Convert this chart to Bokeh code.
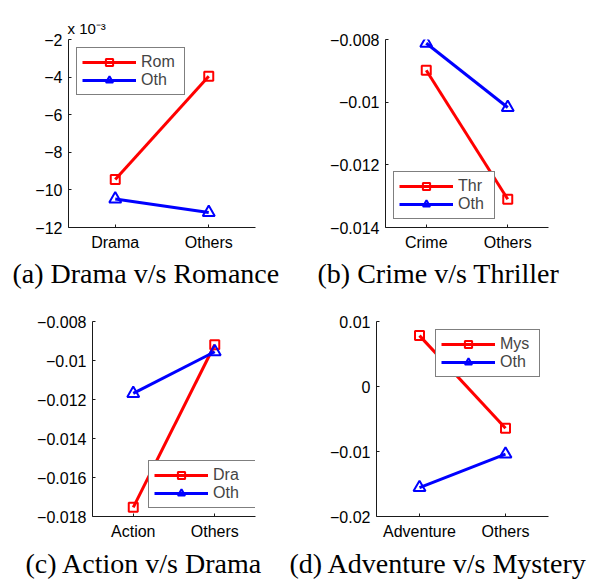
from bokeh.plotting import figure
from bokeh.models import FixedTicker, CustomJSTickFormatter, Legend, Title
from bokeh.layouts import column, row
from bokeh.embed import file_html
from bokeh.resources import INLINE

# ---- data ----
x_pos = [1, 2]

cats_a = ["Drama", "Others"]
rom_a = [-0.00945, -0.00395]
oth_a = [-0.01048, -0.01120]

cats_b = ["Crime", "Others"]
thr_b = [-0.00898, -0.01310]
oth_b = [-0.00812, -0.01017]

cats_c = ["Action", "Others"]
dra_c = [-0.01753, -0.00919]
oth_c = [-0.01169, -0.00955]

cats_d = ["Adventure", "Others"]
mys_d = [0.00783, -0.00641]
oth_d = [-0.01555, -0.01040]

ticks_a = [-0.012, -0.010, -0.008, -0.006, -0.004, -0.002]
ticks_b = [-0.014, -0.012, -0.010, -0.008]
ticks_c = [-0.018, -0.016, -0.014, -0.012, -0.010, -0.008]
ticks_d = [-0.02, -0.01, 0.0, 0.01]

RED = "#FF0000"
BLUE = "#0000FF"
SANS = "Liberation Sans"
SERIF = "Liberation Serif"

fmt_plain = CustomJSTickFormatter(code="""
    const s = parseFloat(tick.toFixed(6)).toString();
    return s.replace('-', '\u2212');
""")
fmt_milli = CustomJSTickFormatter(code="""
    const s = Math.round(tick * 1000).toString();
    return s.replace('-', '\u2212');
""")


def make_panel(cats, s1, s2, name1, ticks, yr, fmt, w, h, bl, br, bt, bb,
               leg_loc, leg_lw, caption, cap_off, cap_standoff):
    p = figure(width=w, height=h, output_backend="svg", toolbar_location=None,
               x_range=(0.5, 2.5), y_range=yr,
               min_border_left=bl, min_border_right=br,
               min_border_top=bt, min_border_bottom=bb)
    p.outline_line_color = None
    p.xgrid.visible = False
    p.ygrid.visible = False
    p.background_fill_color = "white"
    p.border_fill_color = "white"

    for ax in (p.xaxis[0], p.yaxis[0]):
        ax.axis_line_color = "#1a1a1a"
        ax.axis_line_width = 1
        ax.major_tick_in = 3
        ax.major_tick_out = 0
        ax.major_tick_line_color = "#1a1a1a"
        ax.minor_tick_line_color = None
        ax.major_label_text_font = SANS
        ax.major_label_text_font_size = "16px"
        ax.major_label_text_color = "black"
        ax.major_label_standoff = 6

    p.xaxis.ticker = FixedTicker(ticks=x_pos)
    p.xaxis.major_label_overrides = {x_pos[0]: cats[0], x_pos[1]: cats[1]}
    p.yaxis.ticker = FixedTicker(ticks=ticks)
    p.yaxis.formatter = fmt

    l1 = p.line(x_pos, s1, line_color=RED, line_width=3)
    m1 = p.scatter(x_pos, s1, marker="square", size=9, line_color=RED,
                   line_width=2, fill_color=None)
    l2 = p.line(x_pos, s2, line_color=BLUE, line_width=3)
    m2 = p.scatter(x_pos, s2, marker="triangle", size=12, line_color=BLUE,
                   line_width=2, fill_color=None)

    legend = Legend(items=[(name1, [l1, m1]), ("Oth", [l2, m2])],
                    location=leg_loc)
    legend.label_text_font = SANS
    legend.label_text_font_size = "16px"
    legend.glyph_width = 54
    legend.glyph_height = 18
    legend.label_height = 18
    legend.label_width = leg_lw
    legend.label_standoff = 5
    legend.padding = 5
    legend.spacing = 0
    legend.margin = 8
    legend.border_line_color = "black"
    legend.border_line_width = 1
    legend.background_fill_color = "white"
    legend.background_fill_alpha = 1.0
    p.add_layout(legend, "center")

    cap = Title(text=caption, align="left", offset=cap_off, standoff=cap_standoff,
                text_font=SERIF, text_font_size="28px", text_font_style="normal",
                text_color="black")
    p.add_layout(cap, "below")
    return p


pa = make_panel(cats_a, rom_a, oth_a, "Rom", ticks_a, (-0.012, -0.002), fmt_milli,
                300, 290, 68, 45, 39, 62, "top_left", 38,
                "(a) Drama v/s Romance", -56, 4)
pa.add_layout(Title(text="x 10\u207b\u00b3", align="left", offset=-1, standoff=6,
                    text_font=SANS, text_font_size="15px", text_font_style="normal",
                    text_color="black"), "above")

pb = make_panel(cats_b, thr_b, oth_b, "Thr", ticks_b, (-0.014, -0.008), fmt_plain,
                299, 290, 85, 51, 28, 62, "bottom_left", 31,
                "(b) Crime v/s Thriller", -68, 4)

pc = make_panel(cats_c, dra_c, oth_c, "Dra", ticks_c, (-0.018, -0.008), fmt_plain,
                289, 292, 92, 34, 31, 63, (56, 8), 37,
                "(c) Action v/s Drama", -67, 7)

pd = make_panel(cats_d, mys_d, oth_d, "Mys", ticks_d, (-0.02, 0.01), fmt_plain,
                310, 292, 87, 51, 30, 63, "top_right", 34,
                "(d) Adventure v/s Mystery", -87, 7)

layout = column(row(pa, pb), row(pc, pd))

open("out.html", "w").write(file_html(layout, INLINE))
